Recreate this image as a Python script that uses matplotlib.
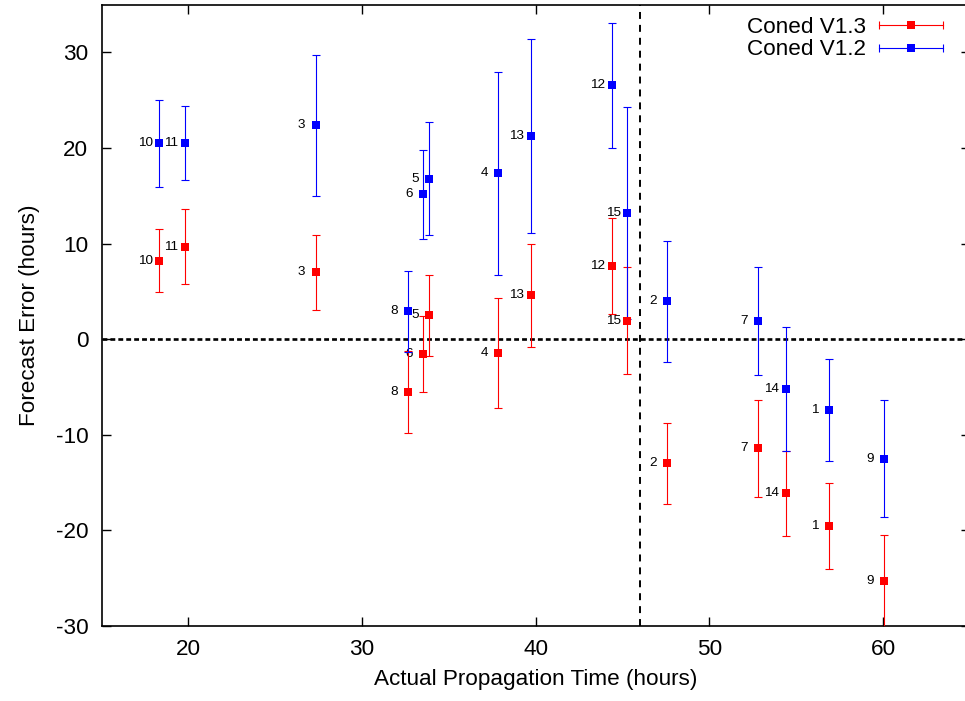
import matplotlib
matplotlib.use("Agg")
import matplotlib.pyplot as plt

plt.rcParams['font.family'] = ['Liberation Sans', 'DejaVu Sans']
plt.rcParams['lines.scale_dashes'] = False
plt.rcParams['axes.unicode_minus'] = False

# Event numbers and actual Sun-to-Earth propagation times (hours)
event_ids = [1, 2, 3, 4, 5, 6, 7, 8, 9, 10, 11, 12, 13, 14, 15]
prop_time = [56.87, 47.53, 27.32, 37.84, 33.85, 33.52, 52.77, 32.65, 60.04,
             18.32, 19.82, 44.36, 39.70, 54.38, 45.26]

# Forecast error and its uncertainty for the Coned V1.3 model
v13_error = [-19.54, -13.0, 7.01, -1.44, 2.48, -1.55, -11.43, -5.55, -25.28,
             8.19, 9.69, 7.70, 4.57, -16.1, 1.95]
v13_unc = [4.5, 4.28, 3.93, 5.72, 4.19, 3.95, 5.1, 4.3, 4.8,
           3.28, 3.88, 5.02, 5.43, 4.45, 5.55]

# Forecast error and its uncertainty for the Coned V1.2 model
v12_error = [-7.39, 3.95, 22.36, 17.35, 16.79, 15.16, 1.9, 2.9, -12.51,
             20.48, 20.48, 26.53, 21.27, -5.17, 13.2]
v12_unc = [5.36, 6.33, 7.35, 10.6, 5.91, 4.67, 5.64, 4.2, 6.12,
           4.56, 3.88, 6.5, 10.15, 6.49, 11.1]

series_names = ['Coned V1.3', 'Coned V1.2']
series_colors = ['#ff0000', '#0000ff']

x_ticks = [20, 30, 40, 50, 60]
y_ticks = [-30, -20, -10, 0, 10, 20, 30]
x_limits = (15, 65)
y_limits = (-30, 35)
split_time = 46

W, H = 965, 701
fig = plt.figure(figsize=(W / 100, H / 100), dpi=100)
ax = fig.add_axes([101.6 / W, 75 / H, 868.4 / W, 621.5 / H])

# reference lines
ax.axhline(0, color='black', lw=1.9, dashes=(3.5, 2.2), zorder=1)
ax.axvline(split_time, color='black', lw=1.4, dashes=(5.0, 4.3), zorder=1)

# both model series: error bars with caps, then square markers
for (yv, ev), col in zip([(v13_error, v13_unc), (v12_error, v12_unc)],
                         series_colors):
    ax.errorbar(prop_time, yv, yerr=ev, fmt='none', ecolor=col,
                elinewidth=0.8, capsize=3.2, capthick=0.8, zorder=3)
    ax.plot(prop_time, yv, ls='none', marker='s', ms=6.3, mew=0, color=col,
            zorder=4)
    for eid, xv, yy in zip(event_ids, prop_time, yv):
        ax.annotate(str(eid), (xv, yy), xytext=(-10, 0),
                    textcoords='offset points', ha='center', va='center',
                    fontsize=9.7, color='black', zorder=2)

ax.set_xlim(*x_limits)
ax.set_ylim(*y_limits)
ax.set_xticks(x_ticks)
ax.set_yticks(y_ticks)
ax.tick_params(top=True, right=True, direction='in', length=6.5, width=1.0,
               labelsize=16.2, pad=9.5)
for sp in ax.spines.values():
    sp.set_linewidth(1.2)

ax.set_xlabel('Actual Propagation Time (hours)', fontsize=16.2, labelpad=6)
ax.set_ylabel('Forecast Error (hours)', fontsize=16.2, labelpad=11)

# key in the upper right: label, then a horizontal error-bar sample
key_rows = [(0.9537, 0.9674), (0.9187, 0.9295)]
for name, col, (ty, ly) in zip(series_names, series_colors, key_rows):
    ax.text(0.880, ty, name, transform=ax.transAxes, ha='right',
            va='baseline', fontsize=16.2)
    ax.plot([0.8955, 0.9692], [ly, ly], color=col, lw=0.8,
            transform=ax.transAxes, clip_on=False)
    ax.plot([0.8955, 0.9692], [ly, ly], ls='none', marker='|', ms=6.4,
            mew=0.8, color=col, transform=ax.transAxes, clip_on=False)
    ax.plot([0.932], [ly], ls='none', marker='s', ms=6.3, mew=0, color=col,
            transform=ax.transAxes, clip_on=False)

fig.savefig('out.png', dpi=100)
